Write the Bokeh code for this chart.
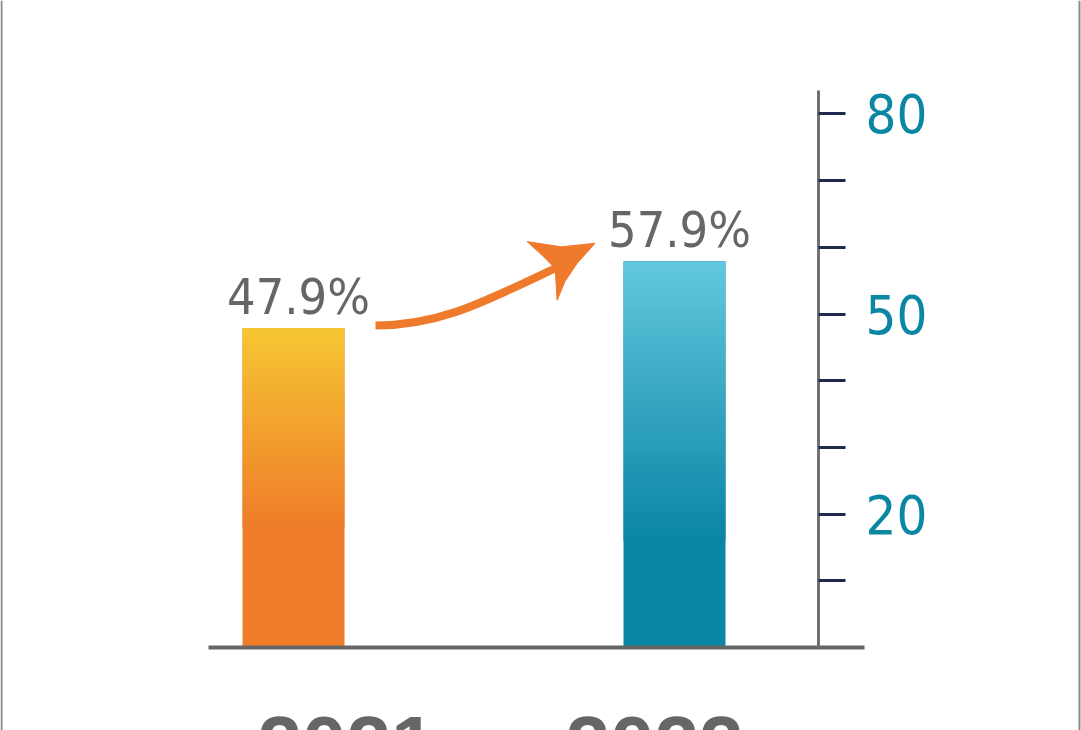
import numpy as np
from bokeh.plotting import figure
from bokeh.models import Range1d, LinearAxis, FixedTicker, Span, ColumnDataSource
from bokeh.core.properties import value
from bokeh.embed import file_html
from bokeh.resources import INLINE

# ---- data ----
years = ["2021", "2022"]
shares = [47.9, 57.9]
y_ticks = [10, 20, 30, 40, 50, 60, 70, 80]
y_tick_labels = ["", "20", "", "", "50", "", "", "80"]

# ---- layout constants (pixels) ----
W, H = 1081, 730
X0_PX = 293.0          # x of first bar centre
X_UNIT = 381.0         # px per category step
Y0_PX = 647.0          # y of value 0
Y_UNIT = 6.67          # px per unit
NARROW_NAME = "DejaVu Sans Condensed, Roboto, sans-serif"

def dx(px):
    return px / X_UNIT

def dv(px):
    return px / Y_UNIT

x_range = Range1d(-X0_PX / X_UNIT, (W - X0_PX) / X_UNIT)
y_range = Range1d(-(H - Y0_PX) / Y_UNIT, Y0_PX / Y_UNIT)

p = figure(width=W, height=H, x_range=x_range, y_range=y_range,
           x_axis_location=None, y_axis_location=None,
           toolbar_location=None, output_backend="svg",
           min_border=0, outline_line_color=None,
           background_fill_color="white", border_fill_color="white")
p.grid.visible = False

xs = list(range(len(years)))
bar_w = dx(102)

# ---- bars with vertical gradients ----
grad = [("#ef7d2a", "#f5c633", 18.0), ("#0a85a5", "#63c8de", 16.0)]

def hex2rgb(h):
    return np.array([int(h[i:i + 2], 16) for i in (1, 3, 5)], dtype=float)

for x, v, (c_lo, c_hi, g0) in zip(xs, shares, grad):
    p.vbar(x=[x], top=[v], bottom=[0], width=bar_w, fill_color=c_lo, line_color=None)
    n = 200
    lo, hi = hex2rgb(c_lo), hex2rgb(c_hi)
    t = np.linspace(0.0, 1.0, n)[:, None]
    rgb = np.round(lo + (hi - lo) * t).astype(np.uint32)
    img = np.empty((n, 4), dtype=np.uint32)
    packed = (255 << 24) | (rgb[:, 2] << 16) | (rgb[:, 1] << 8) | rgb[:, 0]
    img[:] = packed[:, None]
    p.image_rgba(image=[img], x=x - bar_w / 2, y=g0, dw=bar_w, dh=v - g0)

# ---- value labels ----
src = ColumnDataSource(dict(x=[x + dx(5) for x in xs],
                            y=[v + dv(31) for v in shares],
                            t=["%.1f%%" % v for v in shares]))
p.text(x="x", y="y", text="t", source=src, text_align="center",
       text_baseline="alphabetic",
       text_font=value(NARROW_NAME), text_font_size="50px",
       text_color="#666666")

# ---- curved arrow ----
sx, sy = xs[0] + dx(82), shares[0] + dv(2.5)      # shaft start
tx, ty = xs[1] - dx(79.4), shares[1] + dv(18)     # arrow tip
nx, ny = tx - dx(40), ty - dv(25)                 # notch where shaft meets head
p.bezier(x0=[sx], y0=[sy], x1=[nx], y1=[ny],
         cx0=[sx + dx(65)], cy0=[sy], cx1=[nx - dx(70)], cy1=[ny - dv(33)],
         line_color="#f07a2b", line_width=8)
head_px = [(-68, 1.7), (-34, -3.5), (0, 0), (-18, -20), (-30, -38), (-38, -57),
           (-39, -40), (-40, -25), (-54, -11)]
p.patch(x=[tx + dx(a) for a, b in head_px], y=[ty + dv(b) for a, b in head_px],
        fill_color="#f07a2b", line_color="#f07a2b", line_width=1)

# ---- x axis (baseline with year labels) ----
label_shift = [dx(53), dx(-20)]
xaxis = LinearAxis(fixed_location=0, bounds=(-dx(85), dx(571)),
                   ticker=FixedTicker(ticks=[x + s for x, s in zip(xs, label_shift)]),
                   major_label_overrides={x + s: y for x, s, y in zip(xs, label_shift, years)})
xaxis.axis_line_color = "#666666"
xaxis.axis_line_width = 4
xaxis.major_tick_line_color = None
xaxis.minor_tick_line_color = None
xaxis.major_label_text_font = "Liberation Sans"
xaxis.major_label_text_font_style = "bold"
xaxis.major_label_text_font_size = "80px"
xaxis.major_label_text_color = "#666666"
xaxis.major_label_standoff = 63
p.add_layout(xaxis, "below")

# ---- y axis (right-hand scale) ----
yaxis = LinearAxis(fixed_location=dx(525), bounds=(0, dv(557)),
                   ticker=FixedTicker(ticks=y_ticks),
                   major_label_overrides={t: l for t, l in zip(y_ticks, y_tick_labels)})
yaxis.axis_line_color = "#707070"
yaxis.axis_line_width = 3
yaxis.major_tick_line_color = "#1d2b4c"
yaxis.major_tick_line_width = 3
yaxis.major_tick_out = 27
yaxis.major_tick_in = 0
yaxis.minor_tick_line_color = None
yaxis.major_label_text_font = NARROW_NAME
yaxis.major_label_text_font_size = "54px"
yaxis.major_label_text_color = "#0b86a3"
yaxis.major_label_standoff = 20
p.add_layout(yaxis, "right")

# ---- frame side borders ----
p.add_layout(Span(location=x_range.start + dx(1), dimension="height",
                  line_color="#8a8a8a", line_width=2))
p.add_layout(Span(location=x_range.end - dx(2), dimension="height",
                  line_color="#8a8a8a", line_width=2))

open("out.html", "w").write(file_html(p, INLINE))
